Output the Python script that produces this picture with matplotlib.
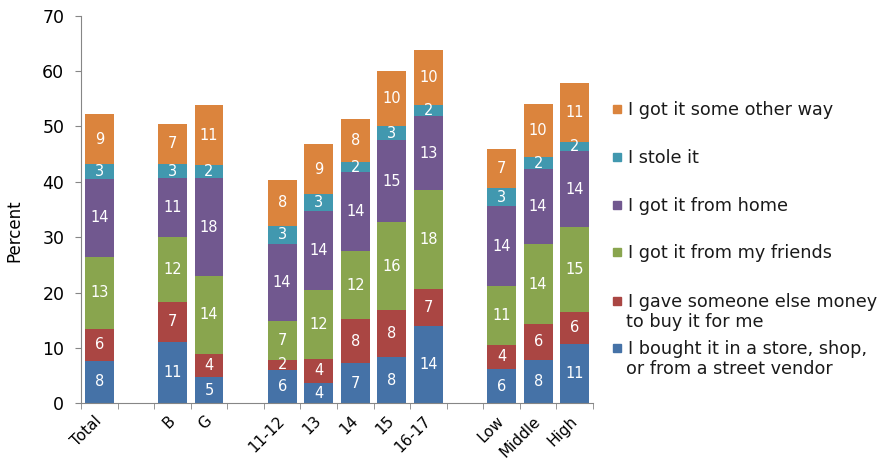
import numpy as np
import matplotlib
matplotlib.use("Agg")
import matplotlib.pyplot as plt
from matplotlib.patches import Rectangle

# ----- Data -----
groups = [
    ["Total"],
    ["B", "G"],
    ["11-12", "13", "14", "15", "16-17"],
    ["Low", "Middle", "High"],
]

series_names = [
    "I bought it in a store, shop,\nor from a street vendor",
    "I gave someone else money\nto buy it for me",
    "I got it from my friends",
    "I got it from home",
    "I stole it",
    "I got it some other way",
]
series_colors = ["#4572A7", "#AA4643", "#89A54E", "#71588F", "#4198AF", "#DB843D"]

# order of bars: Total, B, G, 11-12, 13, 14, 15, 16-17, Low, Middle, High
bought  = [7.7, 11.1, 4.7, 6.1, 3.7, 7.3, 8.4, 14.0, 6.2, 7.9, 10.7]
gave    = [5.7, 7.2, 4.2, 1.8, 4.3, 7.9, 8.4, 6.6, 4.4, 6.4, 5.8]
friends = [13.1, 11.7, 14.1, 6.9, 12.4, 12.3, 15.9, 17.9, 10.6, 14.4, 15.3]
home    = [14.0, 10.6, 17.6, 13.9, 14.3, 14.3, 14.8, 13.4, 14.4, 13.6, 13.7]
stole   = [2.7, 2.6, 2.4, 3.4, 3.1, 1.7, 2.6, 2.0, 3.2, 2.1, 1.7]
other   = [9.0, 7.3, 10.8, 8.2, 9.0, 7.8, 9.9, 9.9, 7.1, 9.7, 10.6]

series_values = [bought, gave, friends, home, stole, other]

FONT = "DejaVu Sans"

# ----- Positions: one empty slot between groups -----
labels = []
xpos = []
slot = 0
for gi, g in enumerate(groups):
    if gi > 0:
        slot += 1
    for name in g:
        labels.append(name)
        xpos.append(slot)
        slot += 1
n_slots = slot
xpos = np.array(xpos)

W, H = 887, 461
fig = plt.figure(figsize=(W / 100, H / 100), dpi=100)
ax = fig.add_axes([81 / W, 1 - 403.3 / H, (593 - 81) / W, (403.3 - 15.7) / H])

bottom = np.zeros(len(xpos))
for vals, col in zip(series_values, series_colors):
    vals = np.array(vals)
    ax.bar(xpos, vals, bottom=bottom, width=0.79, color=col, linewidth=0)
    for x, b, v in zip(xpos, bottom, vals):
        ax.text(x, b + v / 2, f"{v:.0f}", ha="center", va="center",
                color="white", fontsize=10.5, family=FONT)
    bottom += vals

axis_gray = "#868686"
ax.set_xlim(-0.5, n_slots - 0.5)
ax.set_ylim(0, 70)
ax.set_yticks(np.arange(0, 71, 10))
ax.set_xticks(xpos)
ax.set_xticklabels(labels, rotation=45, ha="right", va="center",
                   rotation_mode="anchor", family=FONT, fontsize=11)
ax.set_xticks(np.arange(-0.5, n_slots, 1), minor=True)
ax.tick_params(axis="x", which="major", length=0, pad=11)
ax.tick_params(axis="x", which="minor", length=4, color=axis_gray)
ax.tick_params(axis="y", length=4, color=axis_gray, labelsize=12.5, pad=8)
for t in ax.get_yticklabels():
    t.set_family(FONT)
for s in ["top", "right"]:
    ax.spines[s].set_visible(False)
for s in ["left", "bottom"]:
    ax.spines[s].set_color(axis_gray)

fig.text(14 / W, 1 - 231 / H, "Percent", rotation=90, ha="center", va="center",
         family=FONT, fontsize=12)

# ----- Legend (drawn by hand, top entry = top series) -----
legend_y = [109, 157, 205, 252, 301, 348]  # first-line centers, pixels from top
for (name, col), yc in zip(list(zip(series_names, series_colors))[::-1], legend_y):
    fig.patches.append(Rectangle((613 / W, 1 - (yc + 4) / H), 8 / W, 8 / H,
                                 transform=fig.transFigure, color=col))
    for k, line in enumerate(name.split("\n")):
        base = yc + 6 + 20 * k
        fig.text((628 if k == 0 else 626) / W, 1 - base / H, line,
                 ha="left", va="baseline", family=FONT,
                 fontsize=12.7, color="#1a1a1a")

fig.savefig("out.png", dpi=100)
